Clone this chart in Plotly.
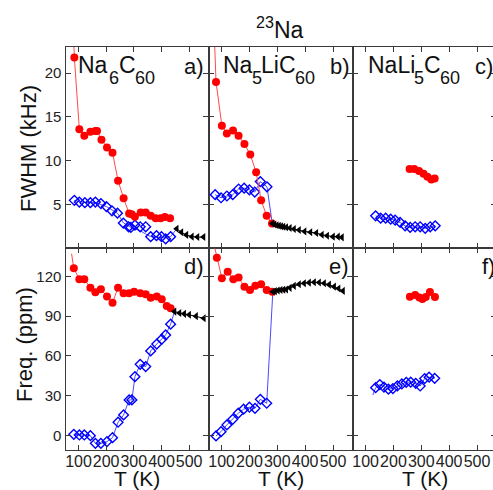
import plotly.graph_objects as go

# ---------------- data (T in K) ----------------
# panel a: Na6C60 FWHM (kHz)
a_red_T = [85, 103, 121, 143, 161, 167, 183, 203, 223, 243, 263, 283, 292, 304, 325, 343, 361, 379, 397, 412, 431]
a_red_v = [21.8, 13.6, 12.85, 13.3, 13.4, 13.4, 12.4, 11.5, 10.9, 7.7, 5.7, 3.95, 3.87, 3.57, 4.05, 4.05, 3.7, 3.4, 3.4, 3.55, 3.4]
a_red_lead = (80, 26.0)
a_blue_T = [85, 103, 123, 143, 161, 181, 201, 221, 241, 262, 281, 289, 304, 323, 343, 361, 382, 400, 415, 433]
a_blue_v = [5.45, 5.26, 5.19, 5.19, 5.26, 5.08, 4.74, 4.25, 3.98, 2.85, 2.43, 2.35, 2.62, 2.43, 2.43, 1.3, 1.41, 1.3, 1.04, 1.3]
a_blue_fit_T = [85, 123, 161, 201, 241, 262, 289, 323, 343, 361, 400, 433]
a_blue_fit_v = [5.45, 5.2, 5.2, 4.74, 3.98, 2.9, 2.35, 1.98, 1.6, 1.3, 1.2, 1.3]
a_black_T = [455, 472, 490, 510, 530, 552]
a_black_v = [2.2, 1.8, 1.5, 1.3, 1.25, 1.25]

# panel b: Na5LiC60 FWHM
b_red_T = [80, 101, 119, 141, 161, 182, 203, 224, 242, 262, 281]
b_red_v = [19.0, 14.0, 13.1, 13.45, 12.85, 11.9, 10.7, 8.66, 5.45, 3.68, 2.8]
b_red_lead = (72, 26.0)
b_blue_T = [77, 98, 119, 140, 161, 181, 200, 219, 239, 263]
b_blue_v = [6.1, 5.75, 5.95, 6.1, 6.75, 6.85, 6.65, 6.4, 7.6, 7.0]
b_black_T = [282, 290, 298, 306, 314, 322, 332, 345, 360, 378, 398, 419, 440, 460, 479, 500, 518, 532]
b_black_v = [2.81, 2.68, 2.6, 2.54, 2.48, 2.43, 2.37, 2.28, 2.17, 2.06, 1.9, 1.8, 1.72, 1.52, 1.41, 1.3, 1.3, 1.22]

# panel c: NaLi5C60 FWHM
c_red_T = [258, 275, 292, 308, 322, 336, 348]
c_red_v = [9.05, 9.05, 8.8, 8.5, 8.15, 7.85, 7.95]
c_blue_T = [136, 154, 172, 190, 206, 224, 242, 260, 278, 296, 314, 332, 350]
c_blue_v = [3.68, 3.41, 3.41, 3.3, 3.19, 2.92, 2.54, 2.36, 2.43, 2.43, 2.25, 2.43, 2.54]

# panel d: Na6C60 shift (ppm)
d_red_T = [83, 103, 121, 143, 161, 181, 203, 223, 243, 263, 283, 301, 323, 343, 361, 383, 401, 419, 433]
d_red_v = [126.0, 117.7, 117.7, 111.4, 108.0, 110.2, 104.7, 100.1, 111.4, 107.2, 107.2, 108.4, 107.2, 106.4, 103.9, 104.7, 102.7, 97.6, 95.9]
d_red_lead = (75, 137.0)
d_blue_T = [83, 103, 121, 143, 161, 181, 203, 223, 243, 263, 283, 293, 304, 323, 343, 361, 383, 401, 415, 433]
d_blue_v = [1.0, 0.5, 0.5, 0.0, -5.8, -5.8, -4.5, -1.5, 10.1, 15.6, 26.9, 26.9, 44.4, 53.7, 52.0, 63.8, 69.0, 72.6, 75.8, 83.9]
d_black_T = [447, 465, 482, 500, 525, 553]
d_black_v = [93.4, 92.3, 91.7, 91.0, 90.0, 88.4]

# panel e: Na5LiC60 shift
e_red_T = [83, 101, 122, 142, 161, 182, 202, 221, 242, 262, 282]
e_red_v = [134.0, 118.5, 123.5, 117.7, 119.0, 112.2, 109.7, 112.9, 114.0, 109.7, 108.4]
e_red_lead = (76, 141.0)
e_blue_T = [80, 98, 119, 140, 160, 179, 200, 220, 239, 262]
e_blue_v = [-0.2, 3.0, 8.1, 12.3, 16.9, 19.9, 21.4, 20.6, 27.4, 24.4]
e_black_T = [284, 292, 302, 312, 322, 332, 345, 360, 378, 396, 414, 432, 450, 468, 486, 504, 520, 536]
e_black_v = [108.4, 108.8, 109.3, 109.7, 109.8, 110.0, 111.3, 112.8, 114.0, 114.8, 115.2, 115.5, 115.3, 114.7, 113.7, 112.2, 110.8, 109.0]

# panel f: NaLi5C60 shift
f_red_T = [259, 278, 293, 304, 316, 331, 349]
f_red_v = [104.6, 105.9, 104.0, 102.9, 104.4, 108.2, 104.4]
f_blue_T = [136, 151, 166, 182, 198, 214, 230, 246, 262, 280, 296, 312, 328, 348]
f_blue_v = [36.1, 38.5, 36.6, 35.0, 35.5, 37.4, 38.9, 40.2, 40.3, 39.4, 37.4, 43.0, 44.0, 43.2]
f_blue_lead = (126, 30.6)

x_ticks = [100, 200, 300, 400, 500]
fwhm_ticks = [5, 10, 15, 20]
freq_ticks = [0, 30, 60, 90, 120]

# ---------------- styling ----------------
W, H = 498, 490
FONT = "Liberation Sans, Arial, sans-serif"
AX = "#3a3a3a"
RED, REDL = "#ff0000", "#ff4a4a"
BLUE, BLUEL = "#0000ff", "#4a4aff"

fig = go.Figure()

def px_x(p):
    return p / W

def px_y(p):
    return 1 - p / H

def add_line(T, v, color, ax):
    fig.add_trace(go.Scatter(x=T, y=v, mode="lines", line=dict(color=color, width=1),
                             xaxis="x" + ax, yaxis="y" + ax, showlegend=False, hoverinfo="skip"))

def add_red(T, v, ax, lead=None, line=True):
    if line:
        LT = ([lead[0]] if lead else []) + T
        LV = ([lead[1]] if lead else []) + v
        add_line(LT, LV, REDL, ax)
    fig.add_trace(go.Scatter(x=T, y=v, mode="markers",
                             marker=dict(symbol="circle", size=8, color=RED, line=dict(width=0)),
                             xaxis="x" + ax, yaxis="y" + ax, showlegend=False))

def add_blue(T, v, ax):
    fig.add_trace(go.Scatter(x=T, y=v, mode="markers",
                             marker=dict(symbol="diamond-open", size=7.5, color=BLUE, line=dict(width=1.4, color=BLUE)),
                             xaxis="x" + ax, yaxis="y" + ax, showlegend=False))

def add_black(T, v, ax):
    fig.add_trace(go.Scatter(x=T, y=v, mode="lines+markers",
                             line=dict(color="black", width=1),
                             marker=dict(symbol="triangle-left", size=7, color="black"),
                             xaxis="x" + ax, yaxis="y" + ax, showlegend=False))

# panel a
add_line(a_blue_fit_T + [a_black_T[0]], a_blue_fit_v + [a_black_v[0]], BLUEL, "")
add_blue(a_blue_T, a_blue_v, "")
add_red(a_red_T, a_red_v, "", a_red_lead)
add_black(a_black_T, a_black_v, "")
# panel b
add_line(b_blue_T + [b_black_T[0]], b_blue_v + [b_black_v[0]], BLUEL, "2")
add_blue(b_blue_T, b_blue_v, "2")
add_red(b_red_T, b_red_v, "2", b_red_lead)
add_black(b_black_T, b_black_v, "2")
# panel c
add_line(c_blue_T, c_blue_v, BLUEL, "3")
add_blue(c_blue_T, c_blue_v, "3")
add_red(c_red_T, c_red_v, "3")
# panel d
add_line(d_blue_T + [d_black_T[0]], d_blue_v + [d_black_v[0]], BLUEL, "4")
add_blue(d_blue_T, d_blue_v, "4")
add_red(d_red_T, d_red_v, "4", d_red_lead)
add_black(d_black_T, d_black_v, "4")
# panel e
add_line(e_blue_T + [e_black_T[0]], e_blue_v + [e_black_v[0]], BLUEL, "5")
add_blue(e_blue_T, e_blue_v, "5")
add_red(e_red_T, e_red_v, "5", e_red_lead)
add_black(e_black_T, e_black_v, "5")
# panel f
add_line([f_blue_lead[0]] + f_blue_T, [f_blue_lead[1]] + f_blue_v, BLUEL, "6")
add_blue(f_blue_T, f_blue_v, "6")
add_red(f_red_T, f_red_v, "6")

# ---------------- axes ----------------
col_px = [(65.5, 208.5), (208.5, 352.5), (352.5, 496.5)]
row_px = [(47, 248), (248, 450)]
x_range = [53, 570]
fwhm_range = [0, 23]
freq_range = [-10.8, 141.3]

common = dict(showline=True, linecolor=AX, linewidth=1.2, mirror="ticks", ticks="inside",
              ticklen=5, tickwidth=1.2, tickcolor=AX, showgrid=False, zeroline=False,
              automargin=False, fixedrange=True)

layout_axes = {}
for i in range(6):
    r, c = divmod(i, 3)
    n = "" if i == 0 else str(i + 1)
    xd = [px_x(col_px[c][0]), px_x(col_px[c][1])]
    yd = [px_y(row_px[r][1]), px_y(row_px[r][0])]
    layout_axes["xaxis" + n] = dict(common, domain=xd, range=x_range, anchor="y" + n,
                                     tickmode="array", tickvals=x_ticks,
                                     showticklabels=(r == 1), tickangle=0,
                                     ticklabelstandoff=-3,
                                     tickfont=dict(family=FONT, size=16, color="#222"))
    layout_axes["yaxis" + n] = dict(common, domain=yd,
                                     range=fwhm_range if r == 0 else freq_range,
                                     anchor="x" + n, tickmode="array",
                                     tickvals=fwhm_ticks if r == 0 else freq_ticks,
                                     showticklabels=(c == 0),
                                     tickfont=dict(family=FONT, size=15, color="#222"))

fig.update_layout(width=W, height=H, margin=dict(l=0, r=0, t=0, b=0),
                  paper_bgcolor="white", plot_bgcolor="white", **layout_axes)

# ---------------- text ----------------
ann = []

def txt(s, x, y, size, xanchor="center", yanchor="middle", angle=0):
    ann.append(dict(text=s, x=px_x(x), y=px_y(y), xref="paper", yref="paper",
                    xanchor=xanchor, yanchor=yanchor, showarrow=False, textangle=angle,
                    borderpad=0, font=dict(family=FONT, size=size, color="#111")))

MAIN, SUB = 23, 18
labels = [
    [("Na", 78.3, 0), ("6", 109.3, 1), ("C", 119.3, 0), ("60", 135.0, 1)],
    [("Na", 223.3, 0), ("5", 252.0, 1), ("LiC", 261.7, 0), ("60", 295.0, 1)],
    [("NaLi", 368.3, 0), ("5", 414.0, 1), ("C", 424.0, 0), ("60", 440.0, 1)],
]
for runs in labels:
    for s, x, sub in runs:
        txt(s, x - 1.5, 77.5 if sub else 65.5, SUB if sub else MAIN, xanchor="left")

txt("a)", 205.0, 66.5, 22, xanchor="right")
txt("b)", 350.5, 66.5, 22, xanchor="right")
txt("c)", 473.5, 66.5, 22, xanchor="left")
txt("d)", 205.0, 266.5, 22, xanchor="right")
txt("e)", 350.0, 266.5, 22, xanchor="right")
txt("f)", 480.5, 266.5, 22, xanchor="left")

txt("<sup>23</sup>Na", 280, 28, 23)
txt("FWHM (kHz)", 28, 149, 22, angle=-90)
txt("Freq. (ppm)", 24, 345, 22, angle=-90)
for cx in (137, 280.5, 424.5):
    txt("T (K)", cx, 478, 21)

fig.update_layout(annotations=ann)

fig.write_html("out.html", config={"displayModeBar": False},
               post_script="document.body.style.margin='0';document.body.style.overflow='hidden';"
                           "document.documentElement.style.overflow='hidden';")
